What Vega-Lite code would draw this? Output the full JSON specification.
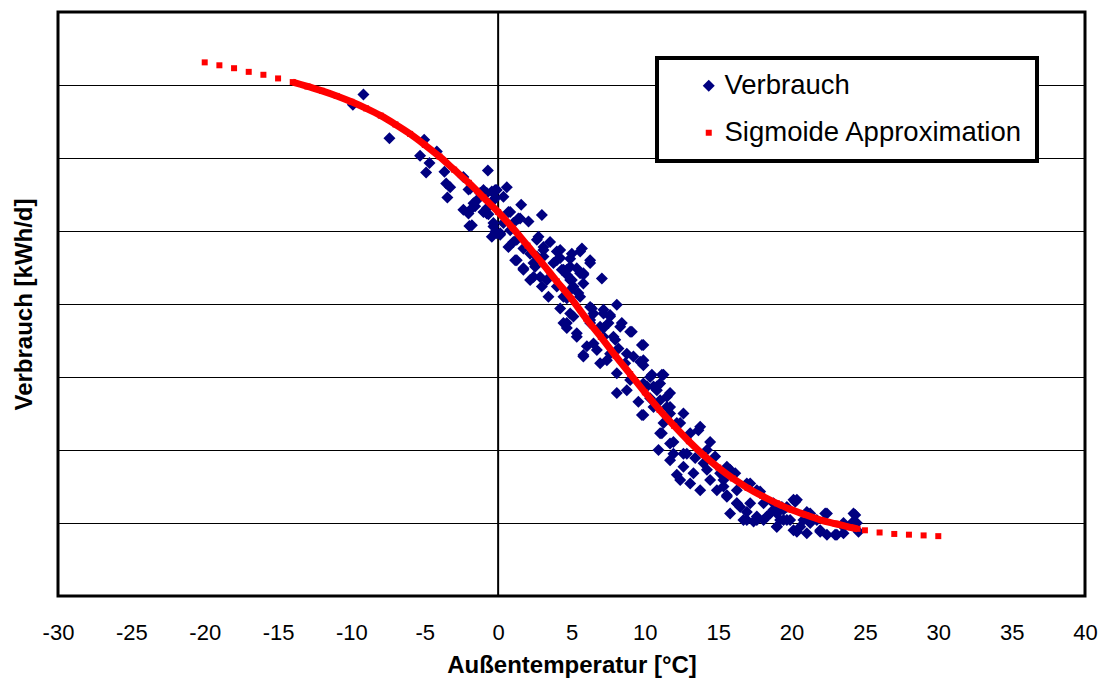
{
  "$schema": "https://vega.github.io/schema/vega-lite/v6.json",
  "width": 1027,
  "height": 584,
  "autosize": {"type": "none"},
  "padding": {"left": 58, "top": 12, "right": 16, "bottom": 82},
  "background": "white",
  "config": {
    "font": "Liberation Sans",
    "view": {"stroke": "black", "strokeWidth": 3},
    "legend": {"strokeWidth": 4, "strokeColor": "black", "fillColor": "white"}
  },
  "datasets": {
    "verbrauch": [
      {"t":-9.18,"v":6.87},{"t":-9.9,"v":6.73},{"t":-7.41,"v":6.27},{"t":-5.04,"v":6.25},{"t":-5.32,"v":6.03},{"t":-4.68,"v":5.93},{"t":-4.91,"v":5.80},{"t":-4.18,"v":6.09},{"t":-3.66,"v":5.81},{"t":-3.54,"v":5.65},{"t":-3.27,"v":5.60},{"t":-3.46,"v":5.46},{"t":-2.37,"v":5.74},{"t":-2.02,"v":5.57},{"t":-0.70,"v":5.83},{"t":-1.57,"v":5.34},{"t":-2.02,"v":5.24},{"t":-1.96,"v":5.07},{"t":-0.66,"v":5.23},{"t":-1.23,"v":5.52},{"t":-0.43,"v":5.54},{"t":-0.09,"v":5.56},{"t":-0.32,"v":5.06},{"t":-0.09,"v":4.97},{"t":-1.79,"v":5.31},
      {"t":-1.91,"v":5.58},{"t":-1.0,"v":5.56},{"t":-0.2,"v":5.56},{"t":0.59,"v":5.60},{"t":-1.68,"v":5.38},{"t":-1.0,"v":5.26},{"t":-0.77,"v":5.31},{"t":-1.79,"v":5.08},{"t":-0.2,"v":4.99},{"t":0.14,"v":4.95},{"t":0.70,"v":5.26},{"t":1.57,"v":5.36},{"t":2.98,"v":5.22},{"t":1.38,"v":5.17},{"t":2.07,"v":5.13},{"t":0.70,"v":4.78},{"t":1.04,"v":4.85},{"t":1.72,"v":4.76},{"t":2.75,"v":4.92},{"t":3.54,"v":4.85},{"t":1.16,"v":4.60},{"t":1.72,"v":4.49},{"t":2.52,"v":4.51},{"t":3.09,"v":4.65},{"t":4.0,"v":4.72},{"t":4.23,"v":4.63},{"t":5.02,"v":4.69},{"t":5.71,"v":4.76},{"t":6.27,"v":4.60},{"t":4.91,"v":4.51},{"t":5.81,"v":4.40},{"t":7.07,"v":4.35},{"t":2.41,"v":4.37},{"t":2.98,"v":4.24},{"t":4.0,"v":4.24},{"t":3.43,"v":4.10},{"t":4.23,"v":3.94},{"t":4.68,"v":4.08},{"t":5.47,"v":4.15},{"t":6.27,"v":3.96},{"t":7.18,"v":3.87},{"t":8.09,"v":3.99},{"t":7.52,"v":3.74},{"t":5.13,"v":3.83},{"t":4.68,"v":3.74},{"t":3.09,"v":4.78},{"t":3.77,"v":4.56},{"t":4.34,"v":4.47},{"t":4.91,"v":4.33},{"t":2.64,"v":4.65},{"t":2.18,"v":4.69},{"t":0.36,"v":5.47},{"t":-0.32,"v":5.42},{"t":-1.45,"v":5.42},{"t":-2.37,"v":5.29},{"t":1.04,"v":5.11},{"t":0.36,"v":5.11},
      {"t":4.68,"v":4.40},{"t":5.59,"v":4.42},{"t":4.91,"v":4.19},{"t":5.59,"v":4.10},{"t":6.39,"v":3.94},{"t":7.63,"v":3.85},{"t":4.68,"v":3.67},{"t":5.36,"v":3.55},{"t":6.27,"v":3.78},{"t":7.18,"v":3.67},{"t":8.43,"v":3.74},{"t":9.0,"v":3.62},{"t":9.80,"v":3.44},{"t":5.81,"v":3.30},{"t":6.73,"v":3.37},{"t":7.63,"v":3.32},{"t":8.77,"v":3.32},{"t":9.68,"v":3.21},{"t":8.09,"v":3.05},{"t":9.0,"v":2.96},{"t":8.09,"v":2.78},{"t":8.77,"v":2.82},{"t":9.56,"v":2.66},{"t":10.36,"v":3.0},{"t":11.27,"v":3.03},{"t":10.82,"v":2.87},{"t":10.36,"v":2.71},{"t":11.04,"v":2.68},{"t":11.50,"v":2.59},{"t":9.80,"v":2.48},{"t":12.63,"v":2.50},{"t":12.18,"v":2.37},{"t":13.77,"v":2.32},{"t":11.27,"v":2.37},{"t":6.50,"v":3.87},{"t":7.18,"v":3.55},{"t":6.50,"v":3.46},{"t":4.91,"v":3.87},{"t":7.98,"v":3.51},{"t":6.95,"v":3.19},{"t":10.59,"v":2.59},{"t":11.72,"v":2.78},
      {"t":9.90,"v":2.91},{"t":11.04,"v":2.91},{"t":9.90,"v":2.48},{"t":11.72,"v":2.50},{"t":11.04,"v":2.23},{"t":11.95,"v":2.11},{"t":10.93,"v":2.0},{"t":14.45,"v":2.11},{"t":14.79,"v":1.91},{"t":11.72,"v":1.86},{"t":12.63,"v":1.77},{"t":13.31,"v":1.68},{"t":12.18,"v":1.66},{"t":13.09,"v":1.54},{"t":13.77,"v":1.45},{"t":14.45,"v":1.59},{"t":15.13,"v":1.68},{"t":15.81,"v":1.73},{"t":14.91,"v":1.45},{"t":15.59,"v":1.38},{"t":15.81,"v":1.13},{"t":16.50,"v":1.22},{"t":16.95,"v":1.54},{"t":17.63,"v":1.45},{"t":16.95,"v":1.04},{"t":17.63,"v":1.04},{"t":18.77,"v":1.18},{"t":19.68,"v":1.22},{"t":20.13,"v":1.32},{"t":19.45,"v":1.04},{"t":20.13,"v":0.90},{"t":12.41,"v":1.59},{"t":14.0,"v":1.82},{"t":15.36,"v":1.59},{"t":16.27,"v":1.45},{"t":10.59,"v":2.87},{"t":12.63,"v":1.95},{"t":13.43,"v":1.89},{"t":14.23,"v":1.73},{"t":16.27,"v":1.27},{"t":17.18,"v":1.27},{"t":18.32,"v":1.09},{"t":19.0,"v":0.95},
      {"t":17.86,"v":1.43},{"t":20.25,"v":1.29},{"t":19.45,"v":1.18},{"t":19.0,"v":1.13},{"t":19.90,"v":1.04},{"t":20.59,"v":0.95},{"t":21.27,"v":1.13},{"t":21.72,"v":1.04},{"t":22.29,"v":1.13},{"t":21.95,"v":0.88},{"t":22.97,"v":0.84},{"t":23.54,"v":0.86},{"t":24.34,"v":1.11},{"t":24.11,"v":1.0},{"t":24.56,"v":0.88},{"t":18.09,"v":1.04},{"t":19.22,"v":1.04},{"t":20.81,"v":1.04},{"t":21.04,"v":0.86},{"t":22.41,"v":0.84},{"t":23.54,"v":1.0},{"t":18.77,"v":1.27},
      {"t":-0.77,"v":5.52},{"t":-0.2,"v":5.45},{"t":0.82,"v":5.26},{"t":1.5,"v":5.17},{"t":-0.77,"v":5.24},{"t":-0.32,"v":5.11},{"t":0.14,"v":4.97},{"t":-0.43,"v":4.92},{"t":0.82,"v":5.01},{"t":1.27,"v":4.88},{"t":2.64,"v":4.88},{"t":4.23,"v":4.74},{"t":3.09,"v":4.74},{"t":1.27,"v":4.60},{"t":1.72,"v":4.47},{"t":2.41,"v":4.56},{"t":2.86,"v":4.37},{"t":4.0,"v":4.60},{"t":4.91,"v":4.62},{"t":5.59,"v":4.72},{"t":4.45,"v":4.47},{"t":5.36,"v":4.49},{"t":5.02,"v":4.33},{"t":5.81,"v":4.28},{"t":3.32,"v":4.33},{"t":2.18,"v":4.33},
      {"t":6.27,"v":4.56},{"t":4.68,"v":4.47},{"t":5.81,"v":4.42},{"t":5.13,"v":4.24},{"t":4.45,"v":4.10},{"t":7.18,"v":3.92},{"t":7.63,"v":3.83},{"t":6.95,"v":3.69},{"t":8.32,"v":3.69},{"t":9.11,"v":3.62},{"t":4.45,"v":3.74},{"t":5.36,"v":3.60},{"t":6.27,"v":3.74},{"t":7.86,"v":3.55},{"t":9.9,"v":3.44},{"t":6.05,"v":3.42},{"t":5.81,"v":3.28},{"t":8.20,"v":3.39},{"t":9.22,"v":3.28},{"t":9.9,"v":3.23},{"t":7.41,"v":3.23},{"t":8.66,"v":3.19},
      {"t":9.90,"v":3.16},{"t":10.48,"v":3.03},{"t":11.16,"v":3.03},{"t":10.14,"v":2.87},{"t":10.82,"v":2.82},{"t":11.50,"v":2.73},{"t":11.72,"v":2.59},{"t":12.41,"v":2.37},{"t":13.65,"v":2.27},{"t":11.16,"v":2.23},{"t":11.72,"v":2.09},{"t":13.09,"v":2.23},{"t":11.95,"v":1.95},{"t":12.86,"v":1.95},{"t":14.23,"v":2.0},{"t":15.59,"v":1.77},
      {"t":16.16,"v":1.68},{"t":15.36,"v":1.50},{"t":17.18,"v":1.54},{"t":15.59,"v":1.36},{"t":16.27,"v":1.27},{"t":16.95,"v":1.15},{"t":17.63,"v":1.09},{"t":16.72,"v":1.04},{"t":17.41,"v":1.02},{"t":18.54,"v":1.13},{"t":19.34,"v":1.22},{"t":20.36,"v":1.32},{"t":19.68,"v":1.04},{"t":20.36,"v":0.88},{"t":21.04,"v":1.15},{"t":21.27,"v":1.0},{"t":22.41,"v":1.13},{"t":21.95,"v":0.90},{"t":23.09,"v":0.84},{"t":23.54,"v":0.95},{"t":24.22,"v":1.13},{"t":24.45,"v":1.0},{"t":18.99,"v":0.95},{"t":18.09,"v":1.27}
    ],
    "sigmoid": [
      {"t":-20,"v":7.31},{"t":-19,"v":7.27},{"t":-18,"v":7.23},{"t":-17,"v":7.18},{"t":-16,"v":7.14},{"t":-15,"v":7.09},{"t":-14,"v":7.04},{"t":-13,"v":6.98},{"t":-12,"v":6.92},{"t":-11,"v":6.85},{"t":-10,"v":6.77},{"t":-9,"v":6.68},{"t":-8,"v":6.58},{"t":-7,"v":6.46},{"t":-6,"v":6.33},{"t":-5,"v":6.18},{"t":-4,"v":6.02},{"t":-3,"v":5.84},{"t":-2,"v":5.66},{"t":-1,"v":5.46},{"t":0,"v":5.26},{"t":1,"v":5.04},{"t":2,"v":4.80},{"t":3,"v":4.56},{"t":4,"v":4.31},{"t":5,"v":4.07},{"t":6,"v":3.80},{"t":7,"v":3.55},{"t":8,"v":3.29},{"t":9,"v":3.04},{"t":10,"v":2.79},{"t":11,"v":2.55},{"t":12,"v":2.33},{"t":13,"v":2.12},{"t":14,"v":1.93},{"t":15,"v":1.76},{"t":16,"v":1.61},{"t":17,"v":1.48},{"t":18,"v":1.37},{"t":19,"v":1.27},{"t":20,"v":1.18},{"t":21,"v":1.11},{"t":22,"v":1.04},{"t":23,"v":0.99},{"t":24,"v":0.94},{"t":24.5,"v":0.92},{"t":25,"v":0.90},{"t":26,"v":0.87},{"t":27,"v":0.85},{"t":28,"v":0.84},{"t":29,"v":0.83},{"t":30,"v":0.82}
    ]
  },
  "layer": [
    {
      "data": {"values": [{"t": 0}]},
      "mark": {"type": "rule", "color": "black", "strokeWidth": 2},
      "encoding": {
        "x": {"field": "t", "type": "quantitative", "scale": {"domain": [-30, 40], "nice": false, "zero": false}}
      }
    },
    {
      "data": {"name": "verbrauch"},
      "mark": {"type": "point", "filled": true, "opacity": 1, "strokeWidth": 0},
      "encoding": {
        "x": {
          "field": "t", "type": "quantitative",
          "scale": {"domain": [-30, 40], "nice": false, "zero": false},
          "axis": {
            "values": [-30,-25,-20,-15,-10,-5,0,5,10,15,20,25,30,35,40],
            "labelExpr": "toString(datum.value)", "labelFlush": false, "labelOverlap": false,
            "grid": false, "ticks": false, "tickSize": 0, "domain": false,
            "labelFontSize": 22, "labelColor": "black", "labelPadding": 26, "labelFont": "Liberation Sans",
            "title": "Außentemperatur [°C]", "titleFontSize": 24, "titleFontWeight": "bold", "titleColor": "black",
            "titleFont": "Liberation Sans", "titleBaseline": "alphabetic", "titleY": 76
          }
        },
        "y": {
          "field": "v", "type": "quantitative",
          "scale": {"domain": [0, 8], "nice": false, "zero": false},
          "axis": {
            "values": [1,2,3,4,5,6,7],
            "grid": true, "gridColor": "black", "gridWidth": 1, "gridOpacity": 1,
            "labels": false, "ticks": false, "domain": false,
            "title": "Verbrauch [kWh/d]", "titleFontSize": 24, "titleFontWeight": "bold", "titleColor": "black",
            "titleFont": "Liberation Sans", "titleBaseline": "alphabetic", "titleX": -27
          }
        },
        "color": {
          "datum": "Verbrauch",
          "scale": {"domain": ["Verbrauch", "Sigmoide Approximation"], "range": ["#000080", "#ff0000"]},
          "legend": {
            "orient": "none", "legendX": 599, "legendY": 46, "title": null,
            "labelFontSize": 27.5, "labelFont": "Liberation Sans", "labelColor": "black", "labelLimit": 700,
            "fillColor": "white", "strokeColor": "black", "padding": 14,
            "rowPadding": 18, "symbolOffset": 24, "labelOffset": 2,
            "symbolStrokeWidth": 0
          }
        },
        "shape": {
          "datum": "Verbrauch",
          "scale": {"domain": ["Verbrauch", "Sigmoide Approximation"], "range": ["diamond", "square"]}
        },
        "size": {
          "datum": "Verbrauch",
          "scale": {"domain": ["Verbrauch", "Sigmoide Approximation"], "range": [144, 36]}
        }
      }
    },
    {
      "data": {"name": "sigmoid"},
      "transform": [{"filter": "datum.t >= -14 && datum.t <= 24.5"}],
      "mark": {"type": "line", "color": "#ff0000", "strokeWidth": 7, "interpolate": "monotone"},
      "encoding": {
        "x": {"field": "t", "type": "quantitative"},
        "y": {"field": "v", "type": "quantitative"}
      }
    },
    {
      "data": {"name": "sigmoid"},
      "mark": {"type": "point", "filled": true, "opacity": 1, "strokeWidth": 0},
      "encoding": {
        "x": {"field": "t", "type": "quantitative"},
        "y": {"field": "v", "type": "quantitative"},
        "color": {"datum": "Sigmoide Approximation"},
        "shape": {"datum": "Sigmoide Approximation"},
        "size": {"datum": "Sigmoide Approximation"}
      }
    }
  ]
}
